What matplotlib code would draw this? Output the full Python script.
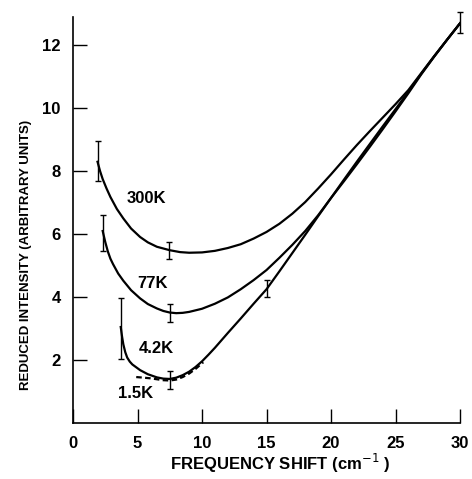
import numpy as np
import matplotlib
matplotlib.use("Agg")
from matplotlib import pyplot as plt

plt.rcParams['font.family'] = ['Liberation Sans', 'DejaVu Sans']

# curves
x_300 = [1.9, 2.1, 2.3, 2.6, 2.9, 3.4, 3.9, 4.5, 5.2, 5.8, 6.5, 7.5, 8.3, 9.0, 10.0, 11.0, 12.0, 13.0, 14.0,
         15.0, 16.0, 17.0, 18.0, 19.0, 20.0, 21.0, 22.0, 23.0, 24.0, 25.0, 26.0, 27.0, 28.0, 29.0, 30.0]
y_300 = [8.3, 8.0, 7.75, 7.45, 7.18, 6.8, 6.5, 6.18, 5.91, 5.74, 5.6, 5.49, 5.43, 5.41, 5.42, 5.47, 5.56, 5.68, 5.86,
         6.07, 6.33, 6.65, 7.02, 7.45, 7.9, 8.37, 8.83, 9.27, 9.7, 10.13, 10.58, 11.12, 11.66, 12.18, 12.7]

x_77 = [2.3, 2.5, 2.7, 2.9, 3.1, 3.5, 3.9, 4.5, 5.2, 5.8, 6.5, 7.0, 7.5, 8.0, 8.5, 9.0, 10.0, 11.0, 12.0, 13.0, 14.0,
        15.0, 16.0, 17.0, 18.0, 19.0, 20.0, 21.0, 22.0, 23.0, 24.0, 25.0, 26.0, 27.0, 28.0, 29.0, 30.0]
y_77 = [6.1, 5.75, 5.45, 5.22, 5.05, 4.75, 4.52, 4.22, 3.96, 3.78, 3.64, 3.56, 3.51, 3.49, 3.5, 3.53, 3.63, 3.79, 3.99, 4.25, 4.54,
        4.86, 5.25, 5.66, 6.1, 6.6, 7.15, 7.68, 8.22, 8.77, 9.33, 9.9, 10.48, 11.08, 11.64, 12.18, 12.7]

x_42 = [3.7, 3.8, 3.9, 4.05, 4.2, 4.4, 4.6, 5.2, 5.8, 6.5, 7.0, 7.5, 8.0, 8.5, 9.0, 9.5, 10.0, 10.5, 11.0, 12.0, 13.0, 14.0,
        15.0, 16.0, 17.0, 18.0, 19.0, 20.0, 21.0, 22.0, 23.0, 24.0, 25.0, 26.0, 27.0, 28.0, 29.0, 30.0]
y_42 = [3.05, 2.75, 2.5, 2.25, 2.08, 1.95, 1.86, 1.68, 1.55, 1.45, 1.41, 1.4, 1.44, 1.52, 1.63, 1.78, 1.96, 2.17, 2.39, 2.86, 3.32, 3.79,
        4.25, 4.82, 5.4, 5.98, 6.57, 7.15, 7.73, 8.3, 8.86, 9.42, 9.97, 10.53, 11.1, 11.65, 12.18, 12.7]

x_15 = [4.9, 5.5, 6.0, 6.5, 7.0, 7.5, 8.0, 8.5, 9.0, 9.5, 10.1]
y_15 = [1.46, 1.44, 1.42, 1.39, 1.36, 1.35, 1.38, 1.46, 1.57, 1.72, 1.93]

# error bars: position, low, high
err_x = [1.9, 7.45, 2.3, 7.5, 3.7, 7.5, 15.0, 30.0]
err_lo = [7.7, 5.2, 5.45, 3.2, 2.03, 1.08, 4.0, 12.4]
err_hi = [8.95, 5.75, 6.6, 3.78, 3.97, 1.65, 4.54, 13.05]

labels = ["300K", "77K", "4.2K", "1.5K"]
label_x = [5.66, 6.18, 6.43, 4.81]
label_y = [7.14, 4.43, 2.37, 0.94]

fig = plt.figure(figsize=(4.72, 4.79), dpi=100)
ax = fig.add_axes([0.1547, 0.1169, 0.8199, 0.8476])

lw = 1.6
ax.plot(x_300, y_300, color='black', lw=lw)
ax.plot(x_77, y_77, color='black', lw=lw)
ax.plot(x_42, y_42, color='black', lw=lw)
ax.plot(x_15, y_15, color='black', lw=lw, ls=(0, (2.5, 1.5)))

lo = np.array(err_lo)
hi = np.array(err_hi)
mid = (lo + hi) / 2
ax.errorbar(err_x, mid, yerr=(hi - lo) / 2, fmt='none', ecolor='black',
            elinewidth=1.0, capsize=2.5, capthick=1.0, clip_on=False)

for t, lx, ly in zip(labels, label_x, label_y):
    ax.text(lx, ly, t, ha='center', va='center', fontsize=12, fontweight='bold')

ax.set_xlim(0, 30)
ax.set_ylim(0, 12.9)
ax.set_xticks([0, 5, 10, 15, 20, 25, 30])
ax.set_yticks([2, 4, 6, 8, 10, 12])
ax.spines['top'].set_visible(False)
ax.spines['right'].set_visible(False)
ax.spines['left'].set_linewidth(1.2)
ax.spines['bottom'].set_linewidth(1.2)
ax.tick_params(direction='in', length=10, width=1.0, pad=9, labelsize=12)
for lab in ax.get_xticklabels() + ax.get_yticklabels():
    lab.set_fontweight('bold')

ax.set_xlabel(r"FREQUENCY SHIFT (cm$^{-1}$ )", fontsize=12, fontweight='bold')
ax.xaxis.set_label_coords(0.535, -0.072)
ax.set_ylabel("REDUCED INTENSITY (ARBITRARY UNITS)", fontsize=9.5, fontweight='bold')
ax.yaxis.set_label_coords(-0.105, 0.414)

fig.savefig("out.png", dpi=100)
